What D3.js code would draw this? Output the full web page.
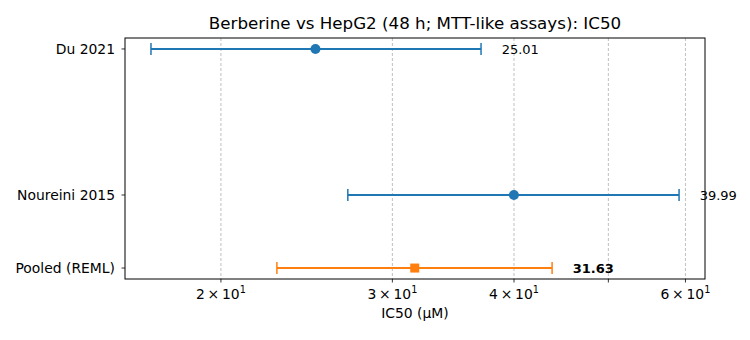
<!DOCTYPE html>
<html>
<head>
<meta charset="utf-8">
<script src="https://cdn.jsdelivr.net/npm/d3@7"></script>
<style>
  body { margin: 0; background: #fff; }
  text { font-family: "DejaVu Sans", sans-serif; }
</style>
</head>
<body>
<div id="chart"></div>
<script>
// data
var studies = ["Du 2021", "Noureini 2015", "Pooled (REML)"];
var ypos = [3, 1, 0];
var ic50 = [25.01, 39.99, 31.63];
var ciLow = [16.95, 27.0, 22.83];
var ciHigh = [37.0, 59.1, 43.77];
var isPooled = [false, false, true];
var tickValues = [20, 30, 40, 50, 60];
var tickLabels = ["2", "3", "4", "", "6"];

var width = 750, height = 340;
var margin = {left: 125, right: 45, top: 38, bottom: 61};
var fs = "13.9px";

var svg = d3.select("#chart").append("svg")
    .attr("width", width)
    .attr("height", height);

var x = d3.scaleLog()
    .domain([15.94, 62.84])
    .range([margin.left, width - margin.right]);

var y = d3.scaleLinear()
    .domain([-0.15, 3.15])
    .range([height - margin.bottom, margin.top]);

var blue = "#1f77b4", orange = "#ff7f0e";

// grid
svg.append("g")
    .selectAll("line")
    .data(tickValues)
    .join("line")
    .attr("x1", d => x(d)).attr("x2", d => x(d))
    .attr("y1", margin.top).attr("y2", height - margin.bottom)
    .attr("stroke", "#b0b0b0")
    .attr("stroke-width", 0.8)
    .attr("stroke-dasharray", "3,2");

// x axis
var xAxis = svg.append("g")
    .attr("transform", "translate(0," + (height - margin.bottom) + ")");
xAxis.selectAll("line")
    .data(tickValues)
    .join("line")
    .attr("x1", d => x(d)).attr("x2", d => x(d))
    .attr("y1", 0).attr("y2", 3.5)
    .attr("stroke", "#000").attr("stroke-width", 0.8);

var xl = xAxis.selectAll("text")
    .data(tickValues.filter((d, i) => tickLabels[i] !== ""))
    .join("text")
    .attr("x", d => x(d))
    .attr("y", 20)
    .attr("text-anchor", "middle")
    .style("font-size", fs);
xl.append("tspan").text(d => tickLabels[tickValues.indexOf(d)] + "\u2009\u00d7\u200910");
xl.append("tspan").attr("dy", -6).style("font-size", "9.7px").text("1");

svg.append("text")
    .attr("x", (margin.left + width - margin.right) / 2)
    .attr("y", 318)
    .attr("text-anchor", "middle")
    .style("font-size", fs)
    .text("IC50 (\u00b5M)");

// y axis ticks and labels
var yAxis = svg.append("g");
yAxis.selectAll("line")
    .data(ypos)
    .join("line")
    .attr("x1", margin.left - 3.5).attr("x2", margin.left)
    .attr("y1", d => y(d)).attr("y2", d => y(d))
    .attr("stroke", "#000").attr("stroke-width", 0.8);
yAxis.selectAll("text")
    .data(studies)
    .join("text")
    .attr("x", margin.left - 10)
    .attr("y", (d, i) => y(ypos[i]))
    .attr("dy", "0.35em")
    .attr("text-anchor", "end")
    .style("font-size", fs)
    .text(d => d);

// error bars
var rows = svg.append("g")
    .selectAll("g")
    .data(studies)
    .join("g");

rows.append("line")
    .attr("x1", (d, i) => x(ciLow[i])).attr("x2", (d, i) => x(ciHigh[i]))
    .attr("y1", (d, i) => y(ypos[i])).attr("y2", (d, i) => y(ypos[i]))
    .attr("stroke", (d, i) => isPooled[i] ? orange : blue)
    .attr("stroke-width", 2);

rows.selectAll(".cap")
    .data((d, i) => [ciLow[i], ciHigh[i]].map(v => ({v: v, i: i})))
    .join("line")
    .attr("class", "cap")
    .attr("x1", c => x(c.v)).attr("x2", c => x(c.v))
    .attr("y1", c => y(ypos[c.i]) - 6).attr("y2", c => y(ypos[c.i]) + 6)
    .attr("stroke", c => isPooled[c.i] ? orange : blue)
    .attr("stroke-width", 1.5);

rows.filter((d, i) => !isPooled[i]).append("circle")
    .attr("cx", d => x(ic50[studies.indexOf(d)]))
    .attr("cy", d => y(ypos[studies.indexOf(d)]))
    .attr("r", 5)
    .attr("fill", blue);

rows.filter((d, i) => isPooled[i]).append("rect")
    .attr("x", d => x(ic50[studies.indexOf(d)]) - 4.5)
    .attr("y", d => y(ypos[studies.indexOf(d)]) - 4.5)
    .attr("width", 9).attr("height", 9)
    .attr("fill", orange);

// value labels
rows.append("text")
    .attr("x", (d, i) => x(ciHigh[i] * 1.05))
    .attr("y", (d, i) => y(ypos[i]))
    .attr("dy", "0.35em")
    .style("font-size", "13px")
    .style("font-weight", (d, i) => isPooled[i] ? "bold" : "normal")
    .text((d, i) => ic50[i].toFixed(2));

// frame
svg.append("rect")
    .attr("x", margin.left).attr("y", margin.top)
    .attr("width", width - margin.left - margin.right)
    .attr("height", height - margin.top - margin.bottom)
    .attr("fill", "none")
    .attr("stroke", "#000")
    .attr("stroke-width", 1);

svg.append("text")
    .attr("x", (margin.left + width - margin.right) / 2)
    .attr("y", 29)
    .attr("text-anchor", "middle")
    .style("font-size", "16.7px")
    .text("Berberine vs HepG2 (48 h; MTT-like assays): IC50");
</script>
</body>
</html>
